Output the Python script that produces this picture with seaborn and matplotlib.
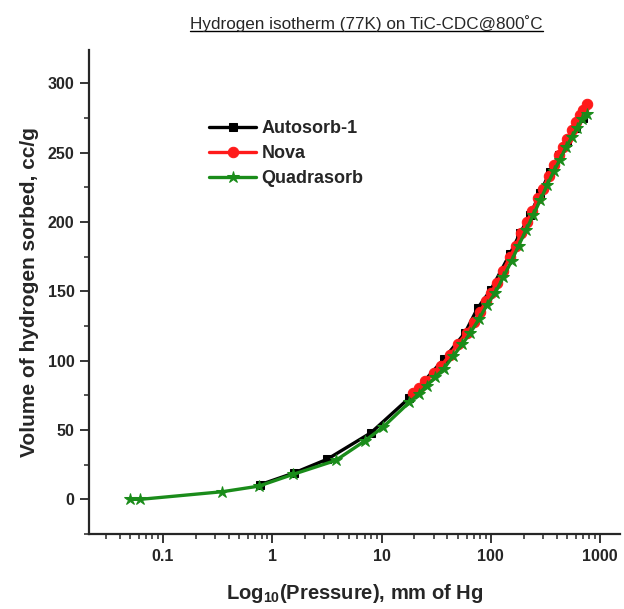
import numpy as np
import pandas as pd
import matplotlib
matplotlib.use("Agg")
import matplotlib.pyplot as plt
from matplotlib.ticker import FuncFormatter, MultipleLocator, LogLocator, NullFormatter
from matplotlib.lines import Line2D
import seaborn as sns

# Autosorb-1 (black squares)
auto_p = [0.77, 1.58, 3.2, 8.0, 17.9, 37, 58, 76, 100, 150, 186, 229, 283, 348, 420, 500, 600, 700]
auto_v = [10.5, 19, 29, 48, 73, 101, 120, 138, 151, 177, 192, 205, 221, 236, 248, 258, 268, 275]

# Nova (red circles)
nova_p = [19.5, 22, 25, 30, 35, 42, 50, 60, 70, 80, 90, 100, 114, 130, 150, 170, 190, 215,
          240, 270, 300, 340, 380, 420, 460, 500, 550, 600, 650, 700, 760]
nova_v = [77, 80, 85, 91, 96, 104, 112, 120, 128, 135, 143, 149, 156, 165, 175, 183, 192, 200,
          208, 217, 224, 233, 241, 248, 254, 260, 266, 272, 277, 281, 285]

# Quadrasorb (green stars)
quad_p = [0.05, 0.062, 0.35, 0.75, 1.55, 3.8, 7.0, 10.3, 18, 22, 26, 31, 37, 45, 55, 65, 78,
          92, 110, 130, 155, 180, 210, 245, 285, 330, 380, 430, 490, 550, 620, 690, 760]
quad_v = [0, 0, 5.5, 9.5, 18, 28, 42, 52, 70, 76, 82, 88, 94, 103, 112, 120, 130,
          140, 149, 160, 172, 183, 194, 205, 216, 227, 237, 245, 254, 261, 268, 274, 278]

series = [
    ("Autosorb-1", auto_p, auto_v, "black", "s", 6),
    ("Nova", nova_p, nova_v, "#ff1a1a", "o", 7.5),
    ("Quadrasorb", quad_p, quad_v, "#1a8c1a", "*", 9),
]

sns.set_style("ticks")
plt.rcParams["font.family"] = ["Liberation Sans", "DejaVu Sans"]
plt.rcParams["mathtext.fontset"] = "custom"
plt.rcParams["mathtext.rm"] = "Liberation Sans:bold"
plt.rcParams["mathtext.bf"] = "Liberation Sans:bold"

fig = plt.figure(figsize=(6.24, 6.09), dpi=100)
ax = fig.add_axes([89 / 624, 1 - 534 / 609, (620 - 89) / 624, (534 - 50) / 609])

for name, p, v, col, mk, ms in series:
    df = pd.DataFrame({"p": p, "v": v})
    sns.lineplot(data=df, x="p", y="v", ax=ax, color=col, marker=mk, markersize=ms,
                 markeredgecolor=col, linewidth=2.4, label=name, sort=False)

ax.set_xscale("log")
ax.set_xlim(0.021, 1524)
ax.set_ylim(-25, 324)
ax.yaxis.set_major_locator(MultipleLocator(50))
ax.yaxis.set_minor_locator(MultipleLocator(25))
ax.xaxis.set_major_locator(LogLocator(base=10, numticks=10))
ax.xaxis.set_minor_locator(LogLocator(base=10, subs=np.arange(2, 10), numticks=20))
ax.xaxis.set_minor_formatter(NullFormatter())
ax.xaxis.set_major_formatter(FuncFormatter(lambda x, pos: f"{x:g}"))

for s in ["top", "right"]:
    ax.spines[s].set_visible(False)
for s in ["left", "bottom"]:
    ax.spines[s].set_linewidth(1.6)
ax.tick_params(which="major", direction="out", length=6.5, width=1.3, labelsize=11.5, pad=4)
ax.tick_params(which="minor", direction="out", length=3.5, width=1.1)
for lab in ax.get_xticklabels() + ax.get_yticklabels():
    lab.set_fontweight("bold")

ax.set_xlabel(r"Log$_{10}$(Pressure), mm of Hg", fontsize=14.5, fontweight="bold", labelpad=13)
ax.set_ylabel("Volume of hydrogen sorbed, cc/g", fontsize=15, fontweight="bold", labelpad=6)

leg = ax.legend(loc="upper left", bbox_to_anchor=(0.213, 0.87), frameon=False,
                prop={"size": 13, "weight": "bold"}, handlelength=2.6, handletextpad=0.3,
                labelspacing=0.45, borderaxespad=0)

title = fig.text(0.587, 0.962, "Hydrogen isotherm (77K) on TiC-CDC@800\u02daC",
                 ha="center", va="center", fontsize=12.3)
fig.canvas.draw()
bb = title.get_window_extent()
fig.add_artist(Line2D([bb.x0 / 624, bb.x1 / 624], [(bb.y0 + 1) / 609] * 2,
                      color="black", linewidth=1.0))

fig.savefig("out.png", dpi=100)
